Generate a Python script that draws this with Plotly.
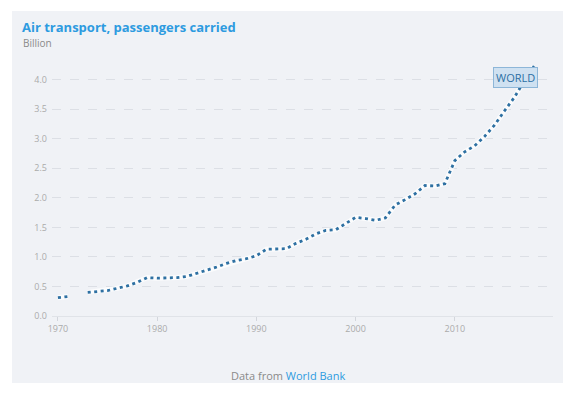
import plotly.graph_objects as go

years = list(range(1970, 2019))
passengers = [0.31, 0.33, None, 0.40, 0.42, 0.43, 0.47, 0.51, 0.57, 0.65,
              0.64, 0.64, 0.65, 0.67, 0.72, 0.77, 0.83, 0.89, 0.94, 0.97,
              1.02, 1.13, 1.14, 1.14, 1.23, 1.30, 1.39, 1.45, 1.46, 1.56,
              1.67, 1.65, 1.62, 1.66, 1.88, 1.97, 2.07, 2.21, 2.20, 2.24,
              2.63, 2.78, 2.88, 3.04, 3.23, 3.47, 3.70, 3.98, 4.23]
series_label = "WORLD"
title_text = "Air transport, passengers carried"
unit_text = "Billion"
y_ticks = [0.0, 0.5, 1.0, 1.5, 2.0, 2.5, 3.0, 3.5, 4.0]

FONT = "Open Sans"
OFF = 8  # default body margin of the html page
fig = go.Figure()
fig.add_trace(go.Scatter(x=years, y=passengers, mode="lines",
                         line=dict(color="rgba(255,255,255,0.75)", width=5),
                         hoverinfo="skip", showlegend=False))
fig.add_trace(go.Scatter(x=years, y=passengers, mode="lines",
                         line=dict(color="#2e70a2", width=2.8, dash="3px,3.5px"),
                         showlegend=False))

W, H = 574 - OFF, 395 - OFF
# plot area in window pixels: x 52..553, y 62..316
L, R, T, B = 52 - OFF, 574 - 553, 62 - OFF, 395 - 316
pw, ph = W - L - R, H - T - B
def px(x): return (x - OFF - L) / pw
def py(y): return (H - B - (y - OFF)) / ph

fig.add_shape(type="rect", xref="paper", yref="paper",
              x0=px(12), x1=px(563), y0=py(383), y1=py(11),
              fillcolor="#f0f2f6", line=dict(width=0), layer="below")

fig.add_annotation(x=2016.1, y=4.03, xref="x", yref="y", text=series_label,
                   showarrow=False, font=dict(family=FONT, size=11, color="#2b6fa3"),
                   bgcolor="#cfe1f1", bordercolor="#8db6d8", borderwidth=1, borderpad=2)

fig.add_annotation(x=px(20), y=py(27), xref="paper", yref="paper", text="<b>" + title_text + "</b>",
                   showarrow=False, xanchor="left", yanchor="middle",
                   font=dict(family=FONT, size=13, color="#2d9be0"))
fig.add_annotation(x=px(21), y=py(43), xref="paper", yref="paper", text=unit_text,
                   showarrow=False, xanchor="left", yanchor="middle",
                   font=dict(family=FONT, size=10, color="#8a8a8a"))
fig.add_annotation(x=px(288), y=py(375), xref="paper", yref="paper",
                   text="Data from <span style='color:#2d9be0'>World Bank</span>",
                   showarrow=False, xanchor="center", yanchor="middle",
                   font=dict(family=FONT, size=11, color="#8a8a8a"))

fig.update_layout(
    width=W, height=H, margin=dict(l=L, r=R, t=T, b=B),
    paper_bgcolor="white", plot_bgcolor="rgba(0,0,0,0)",
    font=dict(family=FONT),
    xaxis=dict(range=[1969.4, 2019.9], tickmode="linear", tick0=1970, dtick=10,
               showgrid=False, zeroline=False, ticks="outside", ticklen=4,
               tickcolor="#d3d6dc", showline=True, linecolor="#e0e3e8",
               tickfont=dict(family=FONT, size=9, color="#ababab")),
    yaxis=dict(range=[0, 4.3], tickvals=y_ticks, ticktext=[f"{v:.1f}" for v in y_ticks],
               showgrid=True, gridcolor="#dcdfe5", griddash="dash", gridwidth=1,
               zeroline=False, ticks="", ticklabelstandoff=4,
               tickfont=dict(family=FONT, size=9, color="#ababab")),
)
fig.write_html("out.html")
